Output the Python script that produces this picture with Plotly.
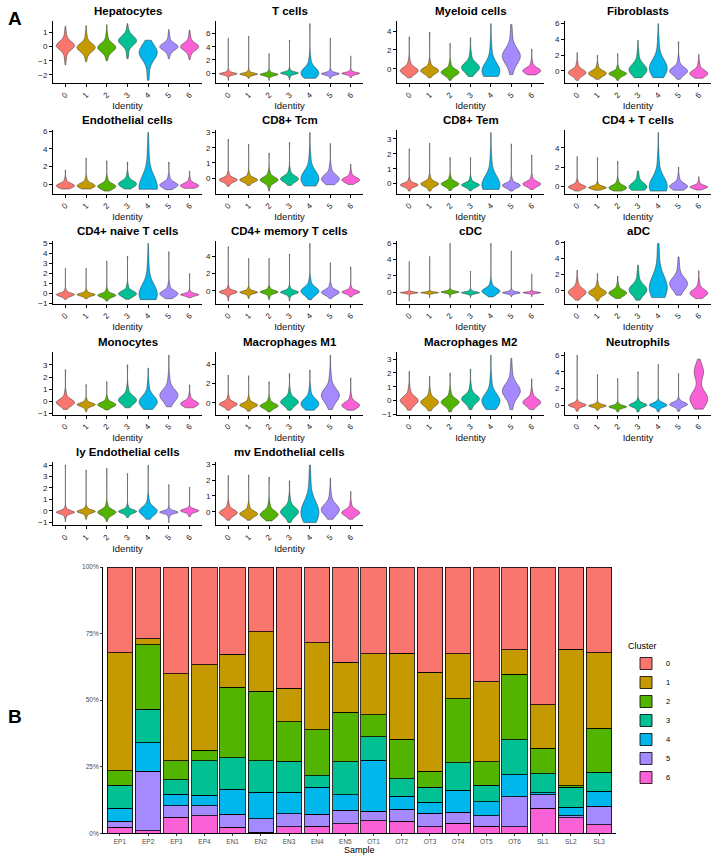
import numpy as np
import plotly.graph_objects as go

# ---------------- Panel A data (violin summaries) ----------------
CLUSTERS = ['0', '1', '2', '3', '4', '5', '6']
COLORS = ['#F8766D', '#C49A00', '#53B400', '#00C094', '#00B6EB', '#A58AFF', '#FB61D7']

TITLES = ['Hepatocytes', 'T cells', 'Myeloid cells', 'Fibroblasts',
          'Endothelial cells', 'CD8+ Tcm', 'CD8+ Tem', 'CD4 + T cells',
          'CD4+ naive T cells', 'CD4+ memory T cells', 'cDC', 'aDC',
          'Monocytes', 'Macrophages M1', 'Macrophages M2', 'Neutrophils',
          'ly Endothelial cells', 'mv Endothelial cells']

YTICKS = [[-2, -1, 0, 1], [0, 2, 4, 6], [0, 2, 4], [0, 2, 4, 6],
          [0, 2, 4, 6], [0, 1, 2, 3], [0, 1, 2, 3], [0, 2, 4],
          [-1, 0, 1, 2, 3, 4, 5], [0, 2, 4], [0, 2, 4, 6], [0, 2, 4, 6],
          [-1, 0, 1, 2, 3], [0, 2, 4], [-1, 0, 1, 2, 3], [0, 2, 4, 6],
          [-1, 0, 1, 2, 3, 4], [0, 1, 2, 3]]

# tail top (max value)
V_HI = [
    [1.45, 1.5, 1.57, 1.64, 0.46, 1.22, 1.18],
    [5.28, 5.6, 2.95, 5.0, 7.5, 5.3, 2.6],
    [3.4, 3.9, 2.7, 3.3, 4.8, 4.7, 2.1],
    [2.33, 2.0, 2.2, 3.9, 6.0, 3.7, 2.1],
    [1.6, 2.96, 2.65, 2.5, 5.84, 2.5, 1.48],
    [2.57, 2.24, 1.65, 2.35, 3.0, 2.28, 0.93],
    [2.33, 2.72, 1.75, 1.75, 3.42, 2.66, 1.92],
    [3.1, 3.0, 2.6, 1.6, 5.6, 2.0, 1.0],
    [2.5, 2.5, 3.23, 3.73, 5.0, 4.17, 2.0],
    [5.08, 3.73, 3.73, 4.23, 5.46, 3.23, 2.77],
    [3.77, 4.37, 6.0, 2.55, 6.0, 5.06, 2.23],
    [2.54, 2.13, 1.8, 3.17, 5.88, 4.2, 2.46],
    [2.61, 1.38, 1.62, 3.0, 2.74, 3.79, 1.36],
    [2.89, 2.82, 2.19, 3.06, 3.41, 4.97, 2.6],
    [2.12, 1.76, 2.0, 2.28, 3.29, 3.06, 1.58],
    [6.0, 3.68, 3.2, 4.0, 4.88, 3.8, 5.52],
    [4.0, 3.56, 3.7, 3.26, 3.97, 2.29, 2.06],
    [2.29, 2.33, 2.19, 1.96, 2.96, 2.13, 1.29],
]
# top of the coloured body
V_TOP = [
    [0.85, 0.75, 0.75, 1.05, 0.3, 0.65, 0.7],
    [0.35, 0.3, 0.3, 0.5, 2.2, 0.4, 0.4],
    [0.8, 0.65, 0.5, 1.5, 2.2, 3.6, 0.65],
    [0.85, 0.64, 0.42, 2.1, 3.4, 1.3, 0.85],
    [0.55, 0.6, 0.6, 1.0, 3.3, 0.8, 0.55],
    [0.28, 0.28, 0.39, 0.5, 1.37, 0.72, 0.35],
    [0.25, 0.42, 0.42, 0.3, 1.57, 0.3, 0.42],
    [0.5, 0.28, 0.57, 1.1, 2.7, 0.9, 0.4],
    [0.33, 0.27, 0.33, 0.73, 2.67, 0.83, 0.23],
    [0.38, 0.27, 0.38, 0.38, 1.23, 0.65, 0.4],
    [0.12, 0.12, 0.32, 0.24, 1.13, 0.24, 0.12],
    [1.08, 0.75, 0.67, 1.9, 4.5, 2.96, 0.88],
    [0.65, 0.13, 0.26, 1.04, 1.3, 1.83, 0.44],
    [0.52, 0.38, 0.38, 1.15, 1.32, 2.7, 0.63],
    [0.82, 0.59, 0.59, 0.94, 1.41, 2.12, 0.59],
    [0.4, 0.28, 0.2, 0.6, 0.4, 0.6, 4.0],
    [0.24, 0.3, 0.53, 0.38, 0.97, 0.18, 0.24],
    [0.46, 0.35, 0.46, 0.77, 1.92, 1.08, 0.46],
]
# widest point (mode)
V_MODE = [
    [0.07, -0.05, -0.05, 0.42, -0.45, 0.0, 0.0],
    [-0.1, -0.15, -0.2, 0.0, 0.05, -0.1, -0.05],
    [-0.2, -0.2, -0.38, 0.14, -0.2, 1.35, -0.2],
    [-0.2, -0.3, -0.34, 0.2, 0.42, 0.0, -0.3],
    [-0.16, -0.16, -0.23, 0.04, -0.35, -0.08, -0.16],
    [-0.11, -0.11, -0.11, -0.04, 0.0, -0.04, -0.11],
    [-0.09, -0.02, -0.02, -0.09, -0.05, -0.12, -0.02],
    [-0.07, -0.14, -0.14, -0.04, 0.04, 0.0, -0.07],
    [-0.1, -0.1, -0.17, 0.0, 0.0, 0.0, -0.1],
    [-0.12, -0.15, -0.12, -0.15, 0.0, -0.15, -0.12],
    [-0.08, -0.08, 0.0, -0.08, 0.12, -0.08, -0.08],
    [-0.2, -0.25, -0.3, 0.13, 0.45, 0.88, -0.3],
    [-0.08, -0.26, -0.26, 0.13, 0.0, 0.52, -0.18],
    [-0.14, -0.24, -0.31, 0.1, -0.07, 0.8, -0.24],
    [0.0, -0.12, -0.12, 0.12, 0.0, 0.7, -0.12],
    [0.0, -0.08, -0.2, 0.0, 0.0, 0.08, 0.8],
    [-0.12, -0.06, -0.12, -0.06, 0.0, -0.12, 0.0],
    [-0.06, -0.13, -0.17, 0.0, 0.0, 0.15, -0.06],
]
# bottom of the coloured body
V_BOT = [
    [-0.75, -0.65, -0.65, -0.45, -1.9, -0.5, -0.55],
    [-0.5, -0.5, -0.55, -0.5, -0.6, -0.5, -0.45],
    [-0.7, -0.75, -0.9, -0.6, -0.7, -0.45, -0.55],
    [-0.9, -0.85, -0.9, -0.7, -0.75, -0.85, -0.75],
    [-0.45, -0.45, -0.65, -0.45, -0.55, -0.5, -0.4],
    [-0.42, -0.4, -0.5, -0.4, -0.45, -0.38, -0.35],
    [-0.38, -0.38, -0.36, -0.38, -0.35, -0.4, -0.32],
    [-0.4, -0.35, -0.4, -0.35, -0.45, -0.35, -0.32],
    [-0.45, -0.4, -0.6, -0.45, -0.55, -0.42, -0.33],
    [-0.6, -0.55, -0.6, -0.6, -0.6, -0.55, -0.5],
    [-0.3, -0.3, -0.3, -0.3, -0.45, -0.3, -0.3],
    [-0.9, -1.0, -0.85, -0.9, -0.8, -0.5, -0.85],
    [-0.55, -0.6, -0.6, -0.45, -0.55, -0.38, -0.45],
    [-0.65, -0.75, -0.8, -0.65, -0.65, -0.62, -0.65],
    [-0.6, -0.65, -0.7, -0.58, -0.58, -0.58, -0.58],
    [-0.55, -0.5, -0.65, -0.65, -0.65, -0.6, -0.4],
    [-0.5, -0.45, -0.55, -0.45, -0.55, -0.45, -0.38],
    [-0.45, -0.45, -0.5, -0.6, -0.6, -0.42, -0.42],
]
# bottom tail tip (min value)
V_LO = [
    [-1.3, -1.08, -1.0, -0.85, -2.4, -0.85, -0.92],
    [-1.1, -0.8, -1.1, -1.0, -0.8, -0.8, -0.7],
    [-0.97, -0.97, -1.24, -0.83, -0.83, -0.62, -0.66],
    [-1.19, -1.06, -1.19, -0.85, -0.85, -1.06, -0.93],
    [-0.55, -0.55, -0.78, -0.55, -0.58, -0.62, -0.47],
    [-0.54, -0.48, -0.85, -0.48, -0.52, -0.43, -0.41],
    [-0.5, -0.5, -0.46, -0.48, -0.39, -0.5, -0.39],
    [-0.5, -0.42, -0.5, -0.42, -0.5, -0.42, -0.39],
    [-0.57, -0.5, -0.73, -0.57, -0.6, -0.5, -0.4],
    [-1.15, -0.88, -1.0, -1.15, -1.0, -0.88, -0.7],
    [-1.1, -0.69, -0.69, -0.69, -0.6, -0.6, -0.57],
    [-1.2, -1.3, -1.0, -1.2, -0.88, -0.58, -1.0],
    [-0.65, -0.85, -0.7, -0.52, -0.65, -0.44, -0.52],
    [-0.77, -0.87, -0.94, -0.77, -0.77, -0.7, -0.77],
    [-0.7, -0.75, -0.82, -0.66, -0.66, -0.66, -0.66],
    [-0.72, -0.6, -0.8, -0.8, -0.8, -0.72, -0.48],
    [-0.94, -0.74, -0.94, -0.59, -0.74, -1.03, -0.5],
    [-0.54, -0.54, -0.58, -0.69, -0.69, -0.48, -0.48],
]
# relative density at the top of the body (upper lobe), 4 unless noted
V_TOPW = [[4] * 7 for _ in range(18)]
V_TOPW[15][6] = 22  # Neutrophils cluster 6 is bimodal

# ---------------- Panel B data (percent of cells per cluster) ----------------
SAMPLES = ['EP1', 'EP2', 'EP3', 'EP4', 'EN1', 'EN2', 'EN3', 'EN4', 'EN5',
           'OT1', 'OT2', 'OT3', 'OT4', 'OT5', 'OT6', 'SL1', 'SL2', 'SL3']
PCT_0 = [32.1, 26.9, 40.1, 36.7, 32.7, 24.3, 45.5, 28.5, 35.7, 32.6, 32.3, 39.5, 32.5, 43.1, 31.0, 51.7, 30.9, 32.2]
PCT_1 = [44.4, 2.2, 32.6, 32.1, 12.5, 22.4, 12.7, 32.7, 18.8, 22.8, 32.3, 37.2, 16.9, 30.0, 9.3, 16.3, 51.3, 28.3]
PCT_2 = [5.5, 24.3, 7.2, 3.9, 26.4, 26.0, 14.8, 17.2, 18.7, 8.4, 15.0, 6.1, 24.2, 8.8, 24.5, 9.7, 0.6, 16.6]
PCT_3 = [8.6, 12.6, 5.5, 13.0, 11.9, 11.9, 11.6, 4.3, 12.4, 8.7, 6.5, 5.6, 10.3, 6.3, 13.3, 7.1, 7.4, 7.2]
PCT_4 = [4.9, 10.8, 4.2, 4.0, 9.3, 9.9, 8.0, 10.2, 5.7, 19.3, 4.9, 4.0, 8.3, 5.2, 8.1, 0.7, 3.2, 5.5]
PCT_5 = [2.3, 22.2, 4.3, 3.7, 5.0, 5.1, 4.9, 4.4, 5.2, 3.5, 4.5, 5.2, 4.1, 3.9, 11.4, 5.2, 0.8, 7.1]
PCT_6 = [2.2, 1.0, 6.1, 6.6, 2.2, 0.4, 2.5, 2.7, 3.5, 4.7, 4.5, 2.4, 3.7, 2.7, 2.4, 9.3, 5.8, 3.1]
PCTS = [PCT_0, PCT_1, PCT_2, PCT_3, PCT_4, PCT_5, PCT_6]

# ---------------- layout geometry (pixels) ----------------
W, H = 715, 861
COL_X = [(53, 202), (216, 363), (397, 544), (565, 711)]
ROW_Y = [(17, 80), (127, 192), (239, 303), (352, 415), (463, 527)]
FONT = 'Liberation Sans, Arial, Helvetica, sans-serif'


def px_x(v):
    return v / W


def px_y(v):
    return 1 - v / H


def axname(n, kind):
    return kind if n == 1 else f'{kind}{n}'


fig = go.Figure()
annotations = []

for p, title in enumerate(TITLES):
    r, c = divmod(p, 4)
    n = p + 1
    xa, ya = axname(n, 'x'), axname(n, 'y')
    for k in range(7):
        lo, b, m, t, hi = V_LO[p][k], V_BOT[p][k], V_MODE[p][k], V_TOP[p][k], V_HI[p][k]
        samples = np.repeat([lo, b, m, t, hi], [1, 4, 40, V_TOPW[p][k], 1])
        bw = max(m - b, t - m) / 2.7
        if V_TOPW[p][k] > 6:
            bw = (t - m) / 3.5
        fig.add_trace(go.Violin(
            x0=k, y=samples, xaxis=xa, yaxis=ya, width=0.88,
            scalemode='width', spanmode='hard', bandwidth=bw,
            points=False, fillcolor=COLORS[k], opacity=1,
            line=dict(color='#333333', width=0.5),
            showlegend=False, hoverinfo='skip', name=CLUSTERS[k]))
    ylo = min(V_LO[p]); yhi = max(V_HI[p]); span = yhi - ylo
    x0, x1 = COL_X[c]
    y0, y1 = ROW_Y[r]
    fig.layout[axname(n, 'xaxis')] = dict(
        domain=[px_x(x0), px_x(x1)], anchor=ya, range=[-0.6, 6.6],
        tickmode='array', tickvals=list(range(7)), ticktext=CLUSTERS,
        tickangle=-45, showline=True, linecolor='black', linewidth=1,
        ticks='outside', ticklen=3, tickcolor='black', showgrid=False,
        zeroline=False, tickfont=dict(size=8, color='#222', family=FONT),
        title=dict(text='Identity', font=dict(size=9.5, color='#111', family=FONT), standoff=3))
    fig.layout[axname(n, 'yaxis')] = dict(
        domain=[px_y(y1), px_y(y0)], anchor=xa,
        range=[ylo - 0.05 * span, yhi + 0.05 * span],
        tickmode='array', tickvals=YTICKS[p], showline=True, linecolor='black',
        linewidth=1, ticks='outside', ticklen=3, tickcolor='black',
        showgrid=False, zeroline=False,
        tickfont=dict(size=8, color='#222', family=FONT))
    annotations.append(dict(
        text=f'<b>{title}</b>', x=px_x((x0 + x1) / 2), y=px_y(y0 - 10),
        xref='paper', yref='paper', showarrow=False, xanchor='center', yanchor='middle',
        font=dict(size=11.5, color='black', family=FONT)))

# ---------------- Panel B ----------------
nb = len(TITLES) + 1
xb, yb = axname(nb, 'x'), axname(nb, 'y')
for k in range(6, -1, -1):
    fig.add_trace(go.Bar(
        x=SAMPLES, y=PCTS[k], name=CLUSTERS[k], xaxis=xb, yaxis=yb,
        marker=dict(color=COLORS[k], line=dict(color='black', width=0.8)),
        hoverinfo='skip'))

fig.layout[axname(nb, 'xaxis')] = dict(
    domain=[px_x(103), px_x(616)], anchor=yb, type='category', range=[-0.6, 17.6],
    showline=True, linecolor='black', linewidth=1, ticks='outside', ticklen=2,
    tickcolor='#333', showgrid=False, zeroline=False,
    tickfont=dict(size=6.5, color='#4D4D4D', family=FONT))
fig.layout[axname(nb, 'yaxis')] = dict(
    domain=[px_y(838), px_y(569)], anchor=xb, range=[0, 100],
    tickmode='array', tickvals=[0, 25, 50, 75, 100],
    ticktext=['0%', '25%', '50%', '75%', '100%'],
    showline=True, linecolor='black', linewidth=1, ticks='outside', ticklen=2,
    tickcolor='#333', showgrid=False, zeroline=False,
    tickfont=dict(size=6.5, color='#4D4D4D', family=FONT))

annotations.append(dict(text='Sample', x=px_x(359.5), y=px_y(855), xref='paper', yref='paper',
                        showarrow=False, xanchor='center', yanchor='middle',
                        font=dict(size=9, color='black', family=FONT)))
annotations.append(dict(text='<b>A</b>', x=px_x(6), y=px_y(15), xref='paper', yref='paper',
                        showarrow=False, xanchor='left', yanchor='middle',
                        font=dict(size=19, color='black', family=FONT)))
annotations.append(dict(text='<b>B</b>', x=px_x(6), y=px_y(720), xref='paper', yref='paper',
                        showarrow=False, xanchor='left', yanchor='middle',
                        font=dict(size=19, color='black', family=FONT)))

fig.update_layout(
    width=W, height=H, margin=dict(l=0, r=0, t=0, b=0),
    paper_bgcolor='white', plot_bgcolor='white',
    violinmode='overlay', barmode='stack', barnorm='percent', bargap=0.1,
    annotations=annotations,
    showlegend=True,
    legend=dict(title=dict(text='Cluster', font=dict(size=9, color='black', family=FONT)),
                traceorder='reversed', x=px_x(626), y=px_y(640), xanchor='left', yanchor='top',
                font=dict(size=7.5, color='black', family=FONT), bgcolor='rgba(0,0,0,0)',
                itemwidth=30, tracegroupgap=0),
    font=dict(family=FONT),
)

fig.write_html('out.html', config={'displayModeBar': False},
               post_script="document.body.style.margin='0';document.body.style.overflow='hidden';")
